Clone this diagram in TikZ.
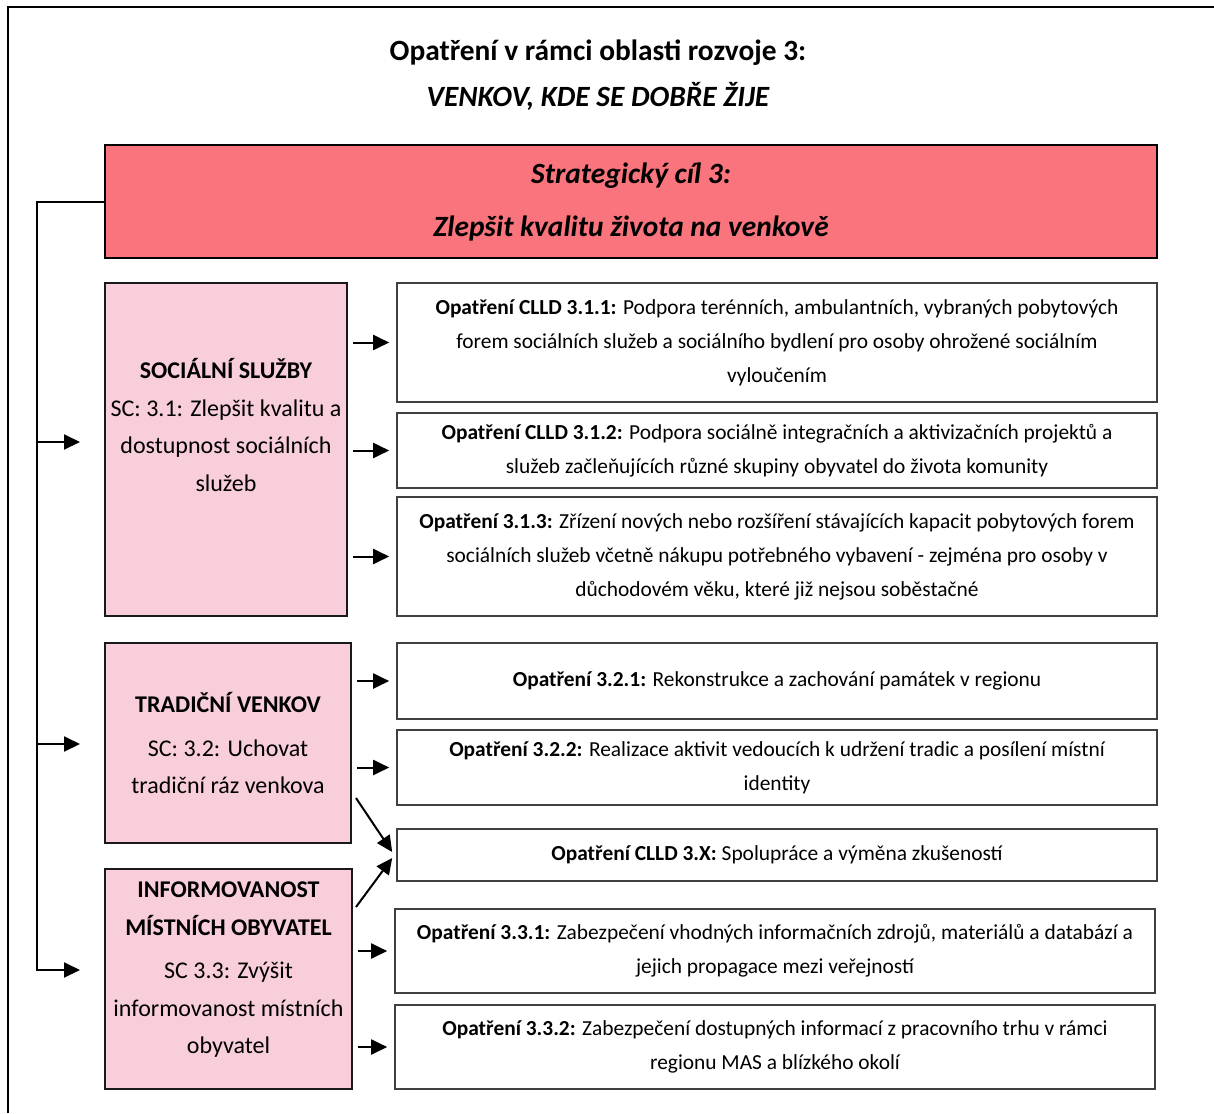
\documentclass[tikz,border=0pt]{standalone}
\usepackage{fontspec}
\setmainfont{Carlito}
\usetikzlibrary{arrows.meta,positioning,calc}
\definecolor{goalred}{HTML}{F9747C}
\definecolor{areapink}{HTML}{F9CEDB}

\begin{document}
\begin{tikzpicture}[x=0.5pt, y=-0.5pt,
  >={Triangle[length=8pt,width=7.5pt]},
  goal/.style={draw, line width=1.1pt, fill=goalred, minimum width=526pt, minimum height=56.5pt, align=center, font=\fontsize{14.7}{26.5}\selectfont\bfseries\itshape},
  area/.style={draw=black!90, line width=1pt, fill=areapink, align=center, inner xsep=2pt, font=\fontsize{12}{18.75}\selectfont},
  measure/.style={draw=black!75, line width=0.8pt, minimum width=380pt, align=center, inner sep=0pt, font=\fontsize{10.7}{17}\selectfont},
  link/.style={->, line width=1pt},
  feed/.style={link, shorten <=2.5pt, shorten >=3.5pt}]

\useasboundingbox (0,0) rectangle (1214,1113);
\draw[line width=1.1pt] (8,1113) -- (8,7) -- (1214,7);

\node[align=center, font=\fontsize{14.7}{23}\selectfont\bfseries] (title_text) at (598,75) {Opatření v rámci oblasti rozvoje 3:\\{\itshape VENKOV, KDE SE DOBŘE ŽIJE}};
\node[goal] (goal_box) at (631,201.5) {Strategický cíl 3:\\Zlepšit kvalitu života na venkově};

\node[area, minimum width=121pt, minimum height=166.5pt] (social_box) at (226,449.5) {\textbf{SOCIÁLNÍ SLUŽBY}\\SC: 3.1: Zlepšit kvalitu a\\dostupnost sociálních\\služeb\\\strut};
\node[area, minimum width=123pt, minimum height=100pt] (tradition_box) at (228,743) {\textbf{TRADIČNÍ VENKOV}\\[3pt]SC: 3.2: Uchovat\\tradiční ráz venkova};
\node[area, minimum width=123.5pt, minimum height=110pt] (info_box) at (228.5,979) {\textbf{INFORMOVANOST}\\\textbf{MÍSTNÍCH OBYVATEL}\\[3pt]SC 3.3: Zvýšit\\informovanost místních\\obyvatel\\[-13pt]\strut};

\node[measure, minimum height=59.5pt] (m_3_1_1) at (777,342.5) {\textbf{Opatření CLLD 3.1.1:} Podpora terénních, ambulantních, vybraných pobytových\\forem sociálních služeb a sociálního bydlení pro osoby ohrožené sociálním\\vyloučením};
\node[measure, minimum height=37.5pt] (m_3_1_2) at (777,450.5) {\textbf{Opatření CLLD 3.1.2:} Podpora sociálně integračních a aktivizačních projektů a\\služeb začleňujících různé skupiny obyvatel do života komunity};
\node[measure, minimum height=59.5pt] (m_3_1_3) at (777,556.5) {\textbf{Opatření 3.1.3:} Zřízení nových nebo rozšíření stávajících kapacit pobytových forem\\sociálních služeb včetně nákupu potřebného vybavení - zejména pro osoby v\\důchodovém věku, které již nejsou soběstačné};
\node[measure, minimum height=38pt] (m_3_2_1) at (777,681) {\textbf{Opatření 3.2.1:} Rekonstrukce a zachování památek v regionu};
\node[measure, minimum height=37.5pt] (m_3_2_2) at (777,767.5) {\textbf{Opatření 3.2.2:} Realizace aktivit vedoucích k udržení tradic a posílení místní\\identity};
\node[measure, minimum height=26pt] (m_3_x) at (777,855) {\textbf{Opatření CLLD 3.X:} Spolupráce a výměna zkušeností};
\node[measure, minimum height=42pt] (m_3_3_1) at (775,951) {\textbf{Opatření 3.3.1:} Zabezpečení vhodných informačních zdrojů, materiálů a databází a\\jejich propagace mezi veřejností};
\node[measure, minimum height=42pt] (m_3_3_2) at (775,1047) {\textbf{Opatření 3.3.2:} Zabezpečení dostupných informací z pracovního trhu v rámci\\regionu MAS a blízkého okolí};

\coordinate (spine) at ($(goal_box.west)+(-67,0)$);
\coordinate (social_in) at (80,442);
\coordinate (tradition_in) at (80,744);
\coordinate (info_in) at (80,970);

\draw[link] (goal_box.west) -- (spine) |- (info_in);
\draw[link] (spine |- social_in) -- (social_in);
\draw[link] (spine |- tradition_in) -- (tradition_in);

\draw[feed] (social_box.east |- m_3_1_1.west) -- (m_3_1_1.west);
\draw[feed] (social_box.east |- m_3_1_2.west) -- (m_3_1_2.west);
\draw[feed] (social_box.east |- m_3_1_3.west) -- (m_3_1_3.west);
\draw[feed] (tradition_box.east |- m_3_2_1.west) -- (m_3_2_1.west);
\draw[feed] (tradition_box.east |- m_3_2_2.west) -- (m_3_2_2.west);
\draw[link] ($(tradition_box.south east)+(4,-46)$) -- ($(m_3_x.west)+(-4,-3)$);
\draw[link] ($(info_box.north east)+(3,39)$) -- ($(m_3_x.west)+(-4,3)$);
\draw[feed] (info_box.east |- m_3_3_1.west) -- (m_3_3_1.west);
\draw[feed] (info_box.east |- m_3_3_2.west) -- (m_3_3_2.west);

\end{tikzpicture}
\end{document}
